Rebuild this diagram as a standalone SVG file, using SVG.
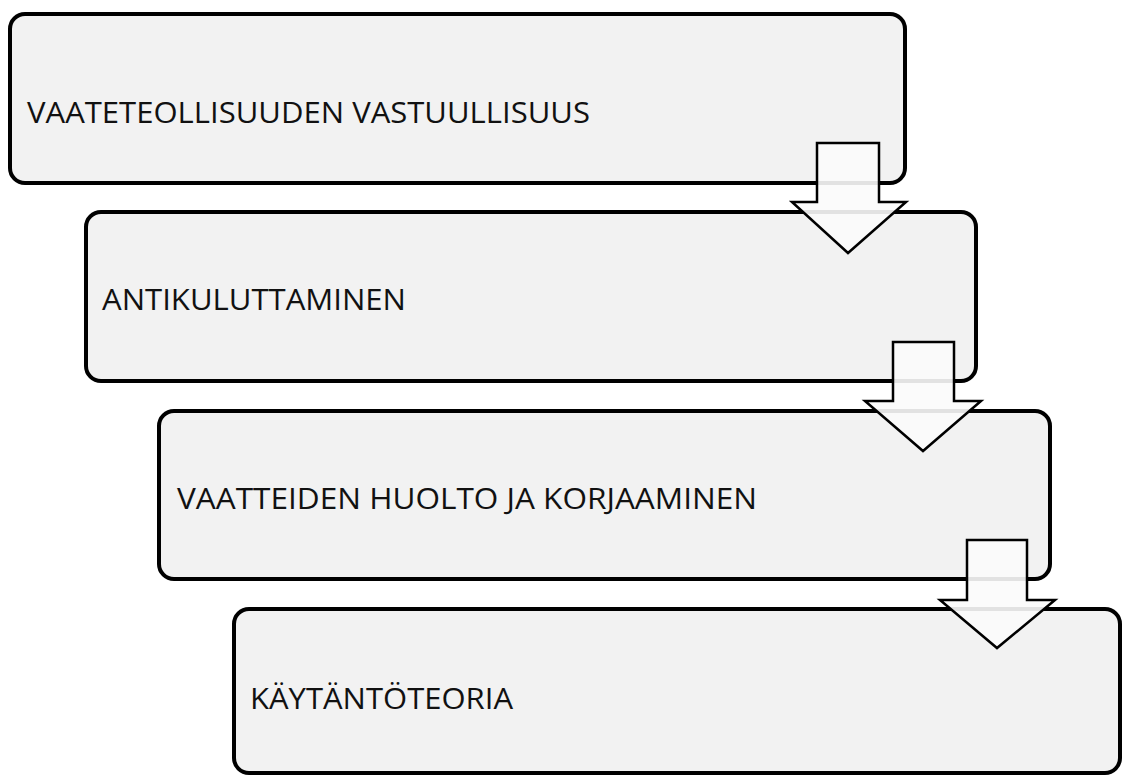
<svg xmlns="http://www.w3.org/2000/svg" width="1123" height="777" viewBox="0 0 1123 777">
<style>
.box{fill:#f2f2f2;stroke:#000;stroke-width:4}
.lbl{font-family:"Open Sans","Liberation Sans",sans-serif;font-size:30px;fill:#111}
.arr{fill:#fbfbfb;fill-opacity:0.9;stroke:#000;stroke-width:2.5;stroke-linejoin:miter}
</style>
<rect width="1123" height="777" fill="#fff"/>
<g id="node1"><rect class="box" x="10" y="14" width="895" height="169" rx="15"/><text class="lbl" x="27" y="123" textLength="563" lengthAdjust="spacingAndGlyphs">VAATETEOLLISUUDEN VASTUULLISUUS</text></g>
<g id="node2"><rect class="box" x="86" y="212" width="890" height="169" rx="15"/><text class="lbl" x="102" y="310" textLength="304" lengthAdjust="spacingAndGlyphs">ANTIKULUTTAMINEN</text></g>
<g id="node3"><rect class="box" x="159" y="411" width="891" height="168" rx="15"/><text class="lbl" x="177" y="509" textLength="580" lengthAdjust="spacingAndGlyphs">VAATTEIDEN HUOLTO JA KORJAAMINEN</text></g>
<g id="node4"><rect class="box" x="234" y="609" width="886" height="164" rx="15"/><text class="lbl" x="250" y="709" textLength="263" lengthAdjust="spacingAndGlyphs">KÄYTÄNTÖTEORIA</text></g>
<g id="connectors">
<path class="arr" d="M817,143 H879 V202 H906 L848,253 L792,202 H817 Z"/>
<path class="arr" d="M893,342 H954 V401 H981 L923,451 L865,401 H893 Z"/>
<path class="arr" d="M967,540 H1027 V600 H1055 L997,648 L940,600 H967 Z"/>
</g>
</svg>
